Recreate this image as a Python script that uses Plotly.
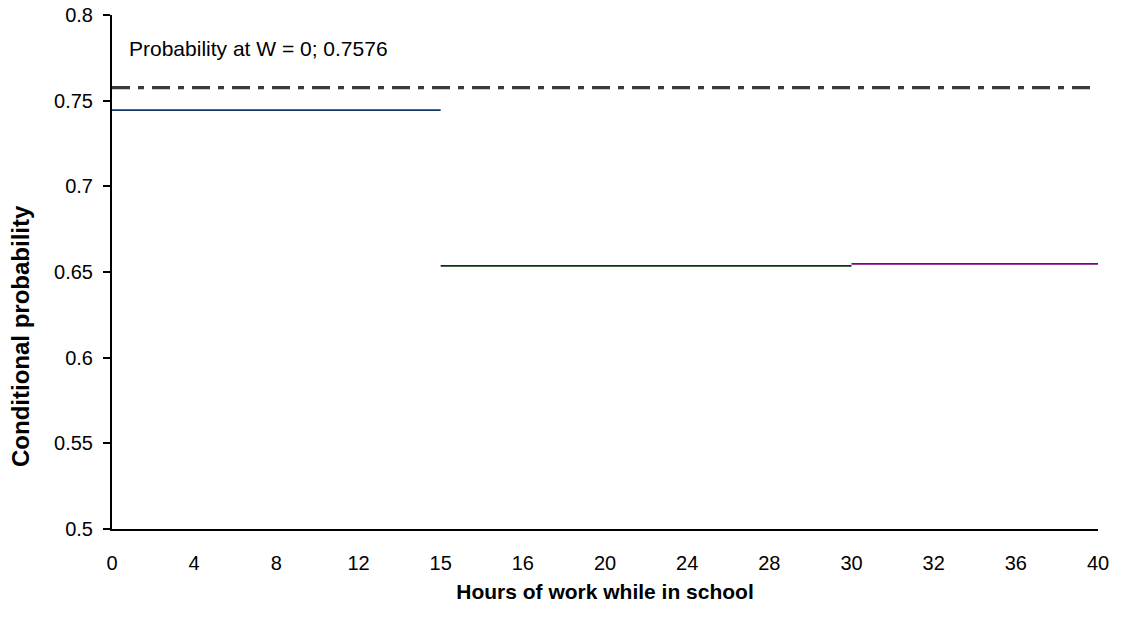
import plotly.graph_objects as go

# Category axis labels (evenly spaced categories, as in the source chart)
categories = ["0", "4", "8", "12", "15", "16", "20", "24", "28", "30", "32", "36", "40"]

# Y-axis tick values
y_ticks = [0.5, 0.55, 0.6, 0.65, 0.7, 0.75, 0.8]
y_ticktext = ["0.5", "0.55", "0.6", "0.65", "0.7", "0.75", "0.8"]

# Baseline probability at W = 0 (spans all categories)
baseline_x = ["0", "40"]
baseline_y = [0.7576, 0.7576]

# Piecewise conditional probabilities
seg1_x = ["0", "15"]
seg1_y = [0.7445, 0.7445]
seg2_x = ["15", "30"]
seg2_y = [0.6536, 0.6536]
seg3_x = ["30", "40"]
seg3_y = [0.6547, 0.6547]

FONT = "Arial, 'Liberation Sans', sans-serif"

W, H = 1121, 617
L, R, T, B = 112, 23, 15, 88
pw, ph = W - L - R, H - T - B


def px(xp):  # window pixel -> paper x
    return (xp - L) / pw


def py(yp):  # window pixel -> paper y
    return (H - B - yp) / ph


fig = go.Figure()
fig.add_trace(go.Scatter(x=seg1_x, y=seg1_y, mode="lines",
                         line=dict(color="#0f3a66", width=1.7), showlegend=False, hoverinfo="skip"))
fig.add_trace(go.Scatter(x=seg2_x, y=seg2_y, mode="lines",
                         line=dict(color="#0b330d", width=1.7), showlegend=False, hoverinfo="skip"))
fig.add_trace(go.Scatter(x=seg3_x, y=seg3_y, mode="lines",
                         line=dict(color="#800080", width=1.7), showlegend=False, hoverinfo="skip"))
fig.add_trace(go.Scatter(x=baseline_x, y=baseline_y, mode="lines",
                         line=dict(color="#3a3a3a", width=3.4, dash="18px,8px,6px,8px"),
                         showlegend=False, hoverinfo="skip"))

fig.update_layout(
    width=W, height=H,
    margin=dict(l=L, r=R, t=T, b=B),
    paper_bgcolor="white", plot_bgcolor="white",
    font=dict(family=FONT, size=20, color="black"),
    xaxis=dict(type="category", categoryorder="array", categoryarray=categories,
               tickmode="array", tickvals=categories, ticktext=categories,
               range=[0, len(categories) - 1],
               showline=True, linecolor="black", linewidth=2,
               showgrid=False, zeroline=False, ticks="",
               ticklabelstandoff=15, automargin=False,
               title=dict(text="<b>Hours of work while in school</b>", standoff=11,
                          font=dict(size=21))),
    xaxis2=dict(overlaying="x", anchor="y", side="bottom", range=[0, len(categories) - 1],
                tickmode="array", tickvals=[0], ticks="outside", ticklen=7, tickwidth=2,
                tickcolor="black", showticklabels=False, showgrid=False, zeroline=False,
                showline=False),
    yaxis=dict(range=[0.5, 0.8], tickmode="array", tickvals=y_ticks, ticktext=y_ticktext,
               showline=True, linecolor="black", linewidth=2,
               showgrid=False, zeroline=False,
               ticks="outside", ticklen=7, tickwidth=2, tickcolor="black",
               ticklabelstandoff=6, ticklabeloverflow="allow", automargin=False),
    annotations=[
        dict(text="Probability at W = 0; 0.7576", xref="paper", yref="paper",
             x=px(127), y=py(49), xanchor="left", yanchor="middle",
             showarrow=False, font=dict(size=21)),
        dict(text="<b>Conditional probability</b>", xref="paper", yref="paper",
             x=px(20), y=py(469), xanchor="center", yanchor="bottom",
             textangle=-90, showarrow=False, font=dict(size=24)),
    ],
)

fig.write_html("out.html",
               config={"displayModeBar": False, "staticPlot": True},
               post_script="document.body.style.margin='0px';document.body.style.overflow='hidden';")
